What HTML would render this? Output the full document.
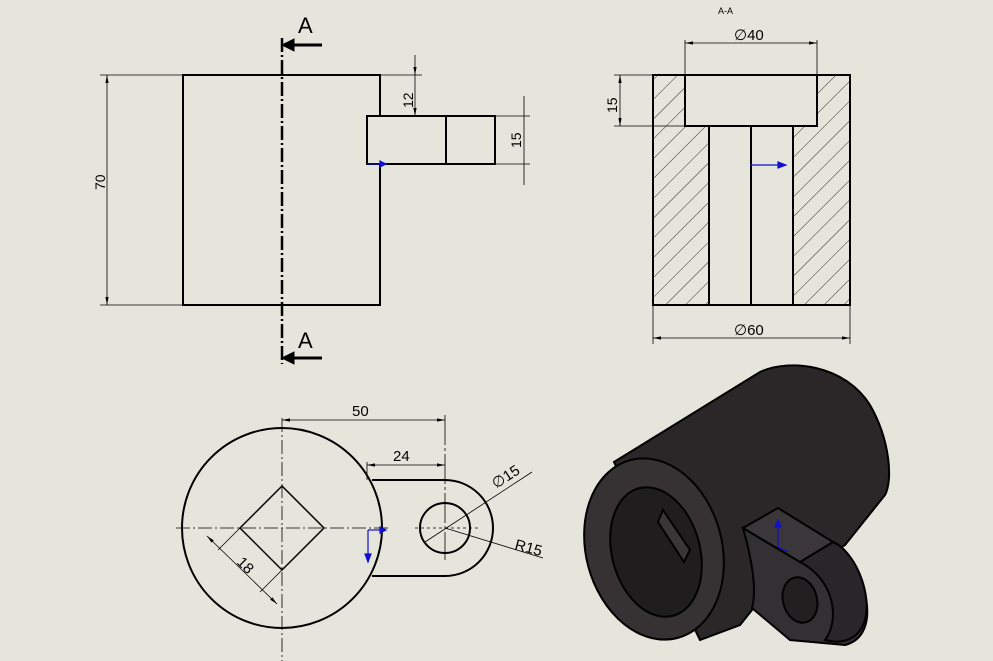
<!DOCTYPE html>
<html><head><meta charset="utf-8"><style>
html,body{margin:0;padding:0;background:#e5e5dc;}
svg{display:block}
text{font-family:"Liberation Sans",sans-serif;fill:#000}
</style></head><body>
<svg width="993" height="661" viewBox="0 0 993 661" xmlns="http://www.w3.org/2000/svg">
<defs>
<pattern id="h" width="14" height="14" patternUnits="userSpaceOnUse" patternTransform="rotate(45)">
<line x1="0" y1="0" x2="0" y2="14" stroke="#000" stroke-width="0.8"/></pattern>
<marker id="ar" viewBox="0 0 10 6" refX="10" refY="3" markerWidth="10" markerHeight="6" orient="auto-start-reverse"><path d="M0,1 L10,3 L0,5z" fill="#000"/></marker>
</defs>
<g fill="none" stroke="#000">
<!-- front view -->
<path d="M380,116 V75 H183 V305 H380 V164" stroke-width="2"/>
<path d="M367,116 H495 V164 H367 Z M446,116 V164" stroke-width="2"/>
<line x1="282" y1="38" x2="282" y2="364" stroke-width="2.5" stroke-dasharray="14,3,2,3"/>
<line x1="322" y1="45" x2="286" y2="45" stroke-width="3"/><path d="M282,45 l12,-6 v12z" fill="#000"/>
<line x1="322" y1="358" x2="286" y2="358" stroke-width="3"/><path d="M282,358 l12,-6 v12z" fill="#000"/>
<g stroke-width="0.8">
<line x1="100" y1="75" x2="183" y2="75"/><line x1="100" y1="305" x2="183" y2="305"/>
<line x1="107" y1="75" x2="107" y2="305" marker-start="url(#ar)" marker-end="url(#ar)"/>
<line x1="380" y1="75" x2="422" y2="75"/><line x1="367" y1="116" x2="422" y2="116"/>
<line x1="415" y1="55" x2="415" y2="75" marker-end="url(#ar)"/><line x1="415" y1="75" x2="415" y2="116" marker-end="url(#ar)"/>
<line x1="495" y1="116" x2="530" y2="116"/><line x1="495" y1="164" x2="530" y2="164"/>
<line x1="524" y1="96" x2="524" y2="185"/>
</g>
<!-- section -->
<rect x="653" y="75" width="56" height="230" fill="url(#h)" stroke="none"/>
<rect x="793" y="75" width="57" height="230" fill="url(#h)" stroke="none"/>
<rect x="685" y="75" width="132" height="51" fill="#e5e5dc" stroke="none"/>
<path d="M653,75 H850 V305 H653 Z M685,75 V126 H817 V75 M709,126 V305 M793,126 V305 M751,126 V305" stroke-width="2"/>
<g stroke-width="0.8">
<line x1="685" y1="40" x2="685" y2="75"/><line x1="817" y1="40" x2="817" y2="75"/>
<line x1="685" y1="43" x2="817" y2="43" marker-start="url(#ar)" marker-end="url(#ar)"/>
<line x1="614" y1="75" x2="653" y2="75"/><line x1="614" y1="126" x2="685" y2="126"/>
<line x1="620" y1="75" x2="620" y2="126" marker-start="url(#ar)" marker-end="url(#ar)"/>
<line x1="653" y1="305" x2="653" y2="344"/><line x1="850" y1="305" x2="850" y2="344"/>
<line x1="653" y1="338" x2="850" y2="338" marker-start="url(#ar)" marker-end="url(#ar)"/>
</g>
<!-- top view -->
<path d="M372,480 H445 A48,48 0 0 1 445,576 H372" stroke-width="2"/>
<circle cx="282" cy="528" r="100" fill="#e5e5dc" stroke-width="2"/>
<circle cx="445" cy="528" r="25" stroke-width="2"/>
<path d="M282,486 L324,528 L282,570 L240,528 Z" stroke-width="1.5"/>
<g stroke-width="0.8">
<line x1="176" y1="528" x2="390" y2="528" stroke-dasharray="14,3,2,3"/>
<line x1="282" y1="418" x2="282" y2="661" stroke-dasharray="14,3,2,3"/>
<line x1="415" y1="528" x2="480" y2="528" stroke-dasharray="3,3"/>
<line x1="445" y1="415" x2="445" y2="560" stroke-dasharray="30,3,3,3"/>
<line x1="282" y1="420" x2="445" y2="420" marker-start="url(#ar)" marker-end="url(#ar)"/>
<line x1="367" y1="462" x2="367" y2="480"/>
<line x1="367" y1="465" x2="445" y2="465" marker-start="url(#ar)" marker-end="url(#ar)"/>
<line x1="425" y1="542" x2="532" y2="472"/>
<line x1="445" y1="528" x2="543" y2="558"/>
<line x1="240" y1="528" x2="218" y2="550"/><line x1="282" y1="570" x2="260" y2="592"/>
<line x1="207" y1="536" x2="277" y2="604" marker-start="url(#ar)" marker-end="url(#ar)"/>
</g>
</g>
<!-- blue markers -->
<g stroke="#1010d0" stroke-width="1.2" fill="#1010d0">
<line x1="367" y1="164" x2="382" y2="164"/><path d="M386,164 l-6,-3 v6z"/>
<line x1="750" y1="165" x2="780" y2="165"/><path d="M786,165 l-8,-3 v6z"/>
<line x1="368" y1="530" x2="382" y2="530"/><path d="M386,530 l-6,-3 v6z"/>
<line x1="368" y1="530" x2="368" y2="556"/><path d="M368,562 l-3,-8 h6z"/>
</g>
<!-- 3D -->
<g stroke="#000" stroke-width="2" fill="#2b2729">
<path d="M614,462 L760,372 C790,358 845,365 870,405 C890,440 893,480 885,495 L845,545 L760,600 L740,625 L700,640 Z"/>
<path d="M743,528 C752,560 757,590 752,608 L790,640 L845,645 C865,640 870,620 866,598 C860,570 848,548 833,542 L800,562 Z" fill="#333033"/>
<path d="M800,562 L833,542 C855,552 870,590 866,615 C862,638 845,645 825,640 C840,620 835,580 800,562 Z" fill="#29262a"/>
<path d="M743,528 L778,508 L833,542 L800,562 Z" fill="#3a3639"/>
<ellipse cx="800" cy="600" rx="17" ry="23" transform="rotate(-15 800 600)" fill="#221f21"/>
<ellipse cx="654" cy="549" rx="68" ry="92" transform="rotate(-15 654 549)" fill="#363234"/>
<ellipse cx="656" cy="552" rx="44" ry="66" transform="rotate(-15 656 552)" fill="#201d1f"/>
<path d="M663,510 L690,550 L684,562 L658,522 Z" fill="#3a3638"/>
</g>
<g stroke="#1010d0" stroke-width="1.2" fill="#1010d0">
<line x1="778" y1="547" x2="778" y2="525"/><path d="M778,520 l-3,7 h6z"/>
<line x1="778" y1="547" x2="788" y2="552"/>
</g>
<!-- texts -->
<text x="298" y="33" font-size="22">A</text>
<text x="298" y="348" font-size="22">A</text>
<text x="718" y="14" font-size="9" font-family="Liberation Mono">A-A</text>
<text font-size="14" transform="translate(105,190) rotate(-90)">70</text>
<text font-size="14" transform="translate(413,108) rotate(-90)">12</text>
<text font-size="14" transform="translate(521,148) rotate(-90)">15</text>
<text font-size="14" transform="translate(617,113) rotate(-90)">15</text>
<text x="734" y="40" font-size="15">∅40</text>
<text x="734" y="335" font-size="15">∅60</text>
<text x="352" y="416" font-size="15">50</text>
<text x="393" y="461" font-size="15">24</text>
<text font-size="15" transform="translate(496,489) rotate(-33)">∅15</text>
<text font-size="15" transform="translate(514,549) rotate(15)">R15</text>
<text font-size="15" transform="translate(236,563) rotate(45)">18</text>
</svg>
</body></html>
